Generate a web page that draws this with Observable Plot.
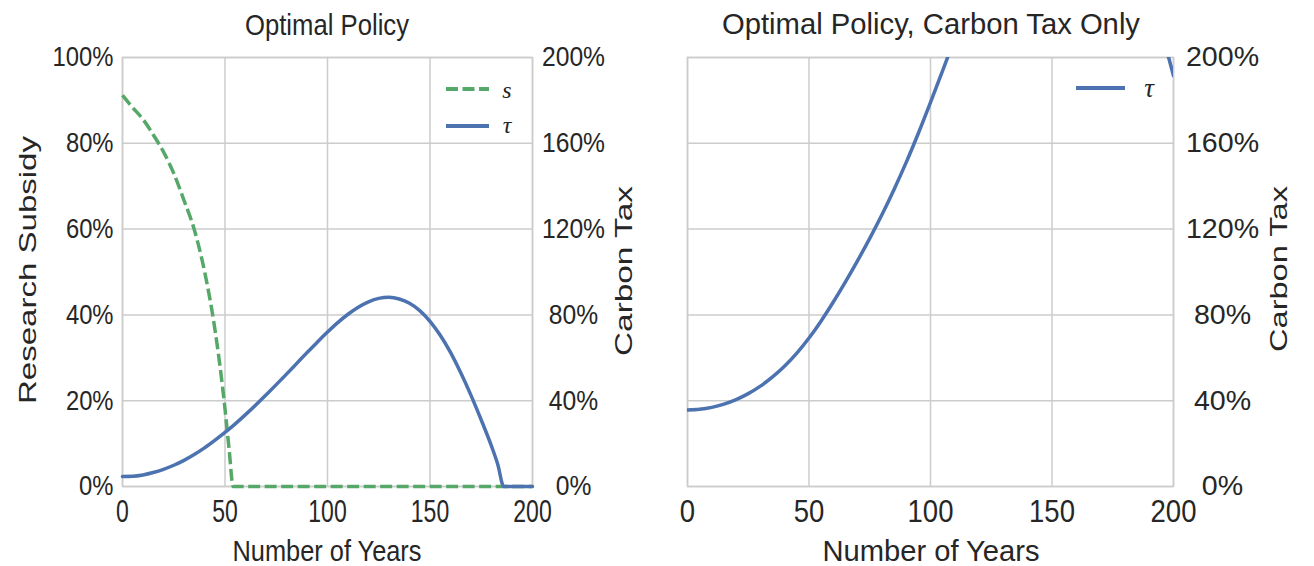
<!DOCTYPE html>
<html><head><meta charset="utf-8">
<script src="https://cdn.jsdelivr.net/npm/d3@7"></script>
<script src="https://cdn.jsdelivr.net/npm/@observablehq/plot@0.6"></script>
<style>
html,body{margin:0;padding:0;background:#fff;}
#wrap{position:relative;width:1314px;height:566px;overflow:hidden;background:#fff;}
#left,#right{position:absolute;top:0;}
#left{left:0px} #right{left:657px}
#overlay{position:absolute;left:0;top:0;pointer-events:none}
</style></head><body>
<div id="wrap"><div id="left"></div><div id="right"></div><svg id="overlay" width="1314" height="566"></svg></div>
<script>
const FONT = "'Liberation Sans', Arial, Helvetica, sans-serif";
const SERIF = "'Liberation Serif', 'DejaVu Serif', serif";
const TEXT = "#262626";
const GRID = "#cccccc";
const BLUE = "#4C72B0";
const GREEN = "#55A868";

// tick values
const xTicks = [0, 50, 100, 150, 200];
const subsidyTicks = [0, 20, 40, 60, 80, 100];
const taxTicks = [0, 40, 80, 120, 160, 200];

// Left panel: research subsidy s (%)
const sYears  = [0, 5, 10, 15, 20, 25, 30, 35, 40, 45, 50, 52, 54, 60, 80, 100, 120, 140, 160, 180, 200];
const sValues = [91.2, 88.3, 85.6, 82.0, 78.0, 73.0, 66.7, 59.9, 50.2, 36.9, 18.1, 8.7, 0, 0, 0, 0, 0, 0, 0, 0, 0];

// Left panel: carbon tax tau (%)
const tauYears  = [0, 5, 10, 15, 20, 25, 30, 35, 40, 45, 50, 55, 60, 65, 70, 75, 80, 85, 90, 95, 100, 105, 110, 115, 120, 125, 130, 135, 140, 145, 150, 155, 160, 165, 170, 175, 180, 183, 186, 190, 200];
const tauValues = [4.7, 4.8, 5.4, 6.5, 8.0, 9.9, 12.2, 14.9, 18.0, 21.5, 25.2, 29.2, 33.5, 38.0, 42.7, 47.5, 52.4, 57.4, 62.4, 67.3, 72.0, 76.4, 80.3, 83.6, 86.1, 87.7, 88.2, 87.4, 85.4, 82.0, 77.0, 70.5, 62.5, 53.0, 42.5, 31.0, 18.8, 10.5, 0, 0, 0];

// Right panel: carbon tax only, tau (%)
const tauOnlyYears  = [0, 5, 10, 15, 20, 25, 30, 35, 40, 45, 50, 55, 60, 65, 70, 75, 80, 85, 90, 95, 100, 105, 110, 120, 130, 140, 150, 160, 170, 180, 190, 195, 198, 200];
const tauOnlyValues = [35.7, 36.0, 36.9, 38.4, 40.5, 43.3, 46.8, 51.1, 56.2, 62.2, 69.2, 77.2, 86.0, 95.4, 105.3, 115.7, 126.7, 138.5, 151.1, 164.7, 179.1, 193.9, 208.9, 240, 264, 279, 286, 285, 276, 257, 229, 212, 200, 191.5];

const W = 657, H = 566;

const left = Plot.plot({
  width: W, height: H,
  marginTop: 57, marginBottom: 80, marginLeft: 122, marginRight: 125,
  style: {fontFamily: FONT, color: TEXT, background: "white"},
  x: {domain: [0, 200]},
  y: {domain: [0, 100]},
  marks: [
    Plot.gridX(xTicks, {stroke: GRID, strokeOpacity: 1, strokeWidth: 1.5}),
    Plot.gridY(subsidyTicks, {stroke: GRID, strokeOpacity: 1, strokeWidth: 1.5}),
    Plot.frame({stroke: GRID, strokeWidth: 1.5}),
    Plot.line(sValues, {x: sYears, y: d => d, stroke: GREEN, strokeWidth: 3.5, strokeDasharray: "12,4.5", strokeLinecap: "butt", curve: "monotone-x"}),
    Plot.line(tauValues, {x: tauYears, y: d => d / 2, stroke: BLUE, strokeWidth: 3.5, curve: "monotone-x"}),
    Plot.axisY(subsidyTicks, {anchor: "left", tickSize: 0, tickPadding: 9, tickFormat: d => d + "%", fontSize: 28, label: null}),
    Plot.axisY(taxTicks.map(t => t / 2), {anchor: "right", tickSize: 0, tickPadding: 41, textAnchor: "middle", tickFormat: d => (d * 2) + "%", fontSize: 28, label: null}),
    Plot.axisX(xTicks, {tickSize: 0, tickPadding: 13, fontSize: 32, label: null})
  ]
});

const right = Plot.plot({
  width: W, height: H,
  marginTop: 57, marginBottom: 80, marginLeft: 30, marginRight: 141,
  style: {fontFamily: FONT, color: TEXT, background: "white"},
  x: {domain: [0, 200]},
  y: {domain: [0, 200]},
  marks: [
    Plot.gridX(xTicks, {stroke: GRID, strokeOpacity: 1, strokeWidth: 1.5}),
    Plot.gridY(taxTicks, {stroke: GRID, strokeOpacity: 1, strokeWidth: 1.5}),
    Plot.frame({stroke: GRID, strokeWidth: 1.5}),
    Plot.line(tauOnlyValues, {x: tauOnlyYears, y: d => d, stroke: BLUE, strokeWidth: 3.5, curve: "monotone-x", clip: true}),
    Plot.axisY(taxTicks, {anchor: "right", tickSize: 0, tickPadding: 49, textAnchor: "middle", tickFormat: d => d + "%", fontSize: 28, label: null}),
    Plot.axisX(xTicks, {tickSize: 0, tickPadding: 13, fontSize: 32, label: null})
  ]
});

document.getElementById("left").appendChild(left);
document.getElementById("right").appendChild(right);

function scaleTexts(root, sel, r) {
  d3.select(root).selectAll(sel).each(function () {
    const L = this.getComputedTextLength();
    this.setAttribute("textLength", (L * r).toFixed(1));
    this.setAttribute("lengthAdjust", "spacingAndGlyphs");
  });
}
// left panel: left y axis compressed a bit more than the right one
d3.select(left).selectAll('g[aria-label="y-axis tick label"]').each(function () {
  const anchor = this.getAttribute("text-anchor");
  scaleTexts(this, "text", anchor === "end" ? 0.85 : 0.88);
});
scaleTexts(left, 'g[aria-label="x-axis tick label"] text', 0.72);
scaleTexts(right, 'g[aria-label="x-axis tick label"] text', 0.86);
scaleTexts(right, 'g[aria-label="y-axis tick label"] text', 1.02);
d3.selectAll('g[aria-label$="tick label"] text').attr("fill", TEXT);

// Overlay: titles, axis labels, legends
const ov = d3.select("#overlay");
function label(txt, x, y, size, target, rotate, family, italic) {
  const t = ov.append("text")
    .attr("transform", `translate(${x},${y})` + (rotate ? " rotate(-90)" : ""))
    .attr("text-anchor", "middle")
    .attr("font-family", family || FONT)
    .attr("font-size", size)
    .attr("font-style", italic ? "italic" : "normal")
    .attr("fill", TEXT)
    .text(txt);
  if (target) t.attr("textLength", target).attr("lengthAdjust", "spacingAndGlyphs");
  return t;
}
label("Optimal Policy", 327, 35, 29, 164);
label("Optimal Policy, Carbon Tax Only", 931, 34, 29, 418);
label("Number of Years", 327, 561, 29, 189);
label("Number of Years", 931, 561, 29, 217);
label("Research Subsidy", 36, 270, 24, 268, true);
label("Carbon Tax", 632, 271, 24, 170, true);
label("Carbon Tax", 1287, 269, 24, 166, true);

// legends
const legends = [
  {x1: 446, x2: 489, y: 89, color: GREEN, dash: "12,4.5", name: "s", tx: 507, ty: 98, size: 24},
  {x1: 446, x2: 489, y: 126, color: BLUE, dash: null, name: "\u03C4", tx: 507, ty: 133, size: 24},
  {x1: 1076, x2: 1125, y: 88, color: BLUE, dash: null, name: "\u03C4", tx: 1149, ty: 97, size: 27}
];
legends.forEach(l => {
  const ln = ov.append("line").attr("x1", l.x1).attr("x2", l.x2).attr("y1", l.y).attr("y2", l.y)
    .attr("stroke", l.color).attr("stroke-width", 4);
  if (l.dash) ln.attr("stroke-dasharray", l.dash);
  label(l.name, l.tx, l.ty, l.size, null, false, SERIF, true);
});
</script>
</body></html>
